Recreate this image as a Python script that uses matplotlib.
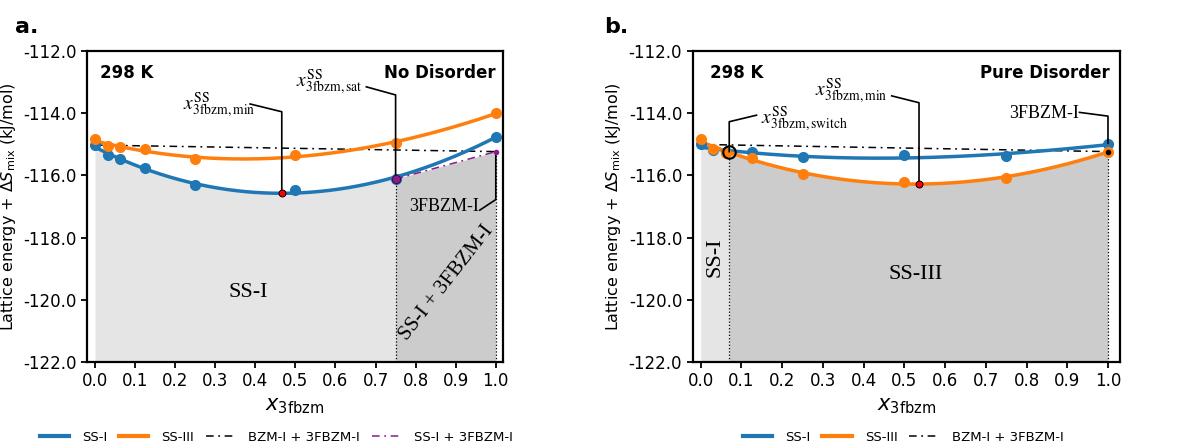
import numpy as np
import matplotlib
matplotlib.use("Agg")
import matplotlib.pyplot as plt
from matplotlib.lines import Line2D

plt.rcParams['font.family'] = ['DejaVu Sans']
plt.rcParams['mathtext.fontset'] = 'stix'

# ---------------- data ----------------
x_frac = [0.0, 0.03125, 0.0625, 0.125, 0.25, 0.5, 0.75, 1.0]

# panel a: No Disorder
a_ss1 = [-115.03, -115.35, -115.49, -115.78, -116.32, -116.48, -116.12, -114.76]
a_ss3 = [-114.84, -115.06, -115.10, -115.16, -115.48, -115.35, -114.96, -114.01]
a_bzm_line_x = [0.0, 1.0]
a_bzm_line_y = [-115.03, -115.24]
a_tangent_x = [0.75, 1.0]
a_tangent_y = [-116.12, -115.24]
a_min = (0.466, -116.58)
a_sat = (0.75, -116.12)

# panel b: Pure Disorder
b_ss1 = [-115.01, -115.20, -115.26, -115.26, -115.42, -115.36, -115.37, -115.00]
b_ss3 = [-114.83, -115.15, -115.28, -115.45, -115.95, -116.22, -116.09, -115.24]
b_bzm_line_x = [0.0, 1.0]
b_bzm_line_y = [-115.01, -115.24]
b_min = (0.536, -116.28)
b_switch = (0.07, -115.24)
b_3fbzm = (1.0, -115.24)

BLUE = '#1f77b4'
ORANGE = '#ff7f0e'
PURPLE = '#8b1a8b'
LIGHT = '#e5e5e5'
DARK = '#cccccc'
DASHDOT = (0, (5, 3, 1.2, 3))

fig = plt.figure(figsize=(11.9, 4.47), dpi=100)
axA = fig.add_axes([0.0731, 0.190, 0.3496, 0.6965])
axB = fig.add_axes([0.582, 0.190, 0.359, 0.6965])

def fit(xs, ys, deg=3):
    c = np.polyfit(xs, ys, deg)
    return np.poly1d(c)

def common(ax, xmax):
    ax.set_xlim(-0.02, xmax)
    ax.set_ylim(-122, -112)
    ax.set_xticks(np.arange(0, 1.01, 0.1))
    ax.set_xticklabels([f"{t:.1f}" for t in np.arange(0, 1.01, 0.1)])
    ax.set_yticks(np.arange(-122, -111.9, 2))
    ax.set_yticklabels([f"{t:.1f}" for t in np.arange(-122, -111.9, 2)])
    ax.tick_params(labelsize=12, width=1.3, length=4)
    for s in ax.spines.values():
        s.set_linewidth(1.6)
    ax.set_xlabel(r"$x_{\mathrm{3fbzm}}$", fontsize=15, math_fontfamily='dejavusans')
    ax.set_ylabel(r"Lattice energy + $\Delta S_{\mathrm{mix}}$ (kJ/mol)", fontsize=11.5,
                  math_fontfamily='dejavusans')

# ---------------- panel a ----------------
ax = axA
f1 = fit(x_frac, a_ss1)
f3 = fit(x_frac, a_ss3)
xx = np.linspace(0, 1, 300)
x_l = np.linspace(0, a_sat[0], 200)
ax.fill_between(x_l, f1(x_l), -122, color=LIGHT, lw=0, zorder=0)
ax.fill_between(a_tangent_x, a_tangent_y, -122, color=DARK, lw=0, zorder=0)
ax.plot(xx, f1(xx), color=BLUE, lw=2.5, zorder=3)
ax.plot(xx, f3(xx), color=ORANGE, lw=2.5, zorder=3)
ax.plot(x_frac, a_ss1, 'o', color=BLUE, ms=7, zorder=3)
ax.plot(x_frac, a_ss3, 'o', color=ORANGE, ms=7, zorder=3)
ax.plot(a_bzm_line_x, a_bzm_line_y, color='black', lw=1.1, ls=DASHDOT, zorder=2)
ax.plot(a_tangent_x, a_tangent_y, color=PURPLE, lw=1.1, ls=DASHDOT, zorder=4)
ax.plot([a_sat[0], a_sat[0]], [-122, a_sat[1]], color='black', lw=0.9, ls=':', zorder=2)
ax.plot([1.0, 1.0], [-122, a_tangent_y[1]], color='black', lw=0.9, ls=':', zorder=2)
# annotation leaders
ax.plot([0.387, a_min[0], a_min[0]], [-113.71, -113.96, a_min[1]], color='black', lw=1.2, zorder=4)
ax.plot([0.677, a_sat[0], a_sat[0]], [-113.16, -113.42, a_sat[1]], color='black', lw=1.2, zorder=4)
ax.plot([0.96, 1.0, 1.0], [-117.12, -116.78, a_tangent_y[1]], color='black', lw=1.2, zorder=4)
ax.plot(*a_min, 'o', color='red', mec='black', ms=5, mew=0.7, zorder=5)
ax.plot(*a_sat, 'o', color=PURPLE, mec='#3a0a3a', ms=6, mew=0.7, zorder=5)
ax.plot(a_tangent_x[1], a_tangent_y[1], 'o', color=PURPLE, ms=3, zorder=5)
ax.text(0.31, -113.75, r"$x_{\mathrm{3fbzm,min}}^{\mathrm{SS}}$", fontsize=14, ha='center', va='center')
ax.text(0.585, -113.0, r"$x_{\mathrm{3fbzm,sat}}^{\mathrm{SS}}$", fontsize=14, ha='center', va='center')
ax.text(0.87, -117.0, "3FBZM-I", fontsize=13, family='Liberation Serif', ha='center', va='center')
ax.text(0.382, -119.75, "SS-I", fontsize=16, family='Liberation Serif', ha='center', va='center')
ax.text(0.877, -119.47, "SS-I + 3FBZM-I", fontsize=15, family='Liberation Serif', ha='center', va='center', rotation=52)
ax.text(0.0125, -112.7, "298 K", fontsize=12, fontweight='bold', ha='left', va='center')
ax.text(1.0, -112.7, "No Disorder", fontsize=12, fontweight='bold', ha='right', va='center')
common(ax, 1.018)

# ---------------- panel b ----------------
ax = axB
g1 = fit(x_frac, b_ss1)
g3 = fit(x_frac, b_ss3)
x_l = np.linspace(0, b_switch[0], 50)
x_r = np.linspace(b_switch[0], 1.0, 250)
ax.fill_between(x_l, g1(x_l), -122, color=LIGHT, lw=0, zorder=0)
ax.fill_between(x_r, g3(x_r), -122, color=DARK, lw=0, zorder=0)
ax.plot(xx, g1(xx), color=BLUE, lw=2.5, zorder=3)
ax.plot(xx, g3(xx), color=ORANGE, lw=2.5, zorder=3)
ax.plot(x_frac, b_ss1, 'o', color=BLUE, ms=7, zorder=3)
ax.plot(x_frac, b_ss3, 'o', color=ORANGE, ms=7, zorder=3)
ax.plot(b_bzm_line_x, b_bzm_line_y, color='black', lw=1.1, ls=DASHDOT, zorder=2)
ax.plot([b_switch[0], b_switch[0]], [-122, b_switch[1]], color='black', lw=0.9, ls=':', zorder=2)
ax.plot([1.0, 1.0], [-122, b_3fbzm[1]], color='black', lw=0.9, ls=':', zorder=2)
ax.plot([0.137, b_switch[0], b_switch[0]], [-114.07, -114.28, b_switch[1]], color='black', lw=1.2, zorder=4)
ax.plot([0.469, b_min[0], b_min[0]], [-113.45, -113.67, b_min[1]], color='black', lw=1.2, zorder=4)
ax.plot([0.93, 1.0, 1.0], [-113.98, -114.1, -114.97], color='black', lw=1.2, zorder=4)
ax.plot(*b_min, 'o', color='red', mec='black', ms=5, mew=0.7, zorder=5)
ax.plot(*b_switch, 'o', mfc='none', mec='black', ms=9, mew=1.5, zorder=5)
ax.plot(*b_3fbzm, 'o', color='black', ms=3, zorder=5)
ax.text(0.255, -114.2, r"$x_{\mathrm{3fbzm,switch}}^{\mathrm{SS}}$", fontsize=14, ha='center', va='center')
ax.text(0.37, -113.3, r"$x_{\mathrm{3fbzm,min}}^{\mathrm{SS}}$", fontsize=14, ha='center', va='center')
ax.text(0.842, -114.0, "3FBZM-I", fontsize=13, family='Liberation Serif', ha='center', va='center')
ax.text(0.528, -119.2, "SS-III", fontsize=16, family='Liberation Serif', ha='center', va='center')
ax.text(0.035, -118.63, "SS-I", fontsize=16, family='Liberation Serif', ha='center', va='center', rotation=90)
ax.text(0.022, -112.7, "298 K", fontsize=12, fontweight='bold', ha='left', va='center')
ax.text(1.005, -112.7, "Pure Disorder", fontsize=12, fontweight='bold', ha='right', va='center')
common(ax, 1.029)

# panel letters
fig.text(0.013, 0.94, "a.", fontsize=16, fontweight='bold', va='center')
fig.text(0.508, 0.94, "b.", fontsize=16, fontweight='bold', va='center')

# legends
hA = [Line2D([], [], color=BLUE, lw=3),
      Line2D([], [], color=ORANGE, lw=3),
      Line2D([], [], color='black', lw=1.1, ls=DASHDOT),
      Line2D([], [], color=PURPLE, lw=1.1, ls=DASHDOT)]
lA = ["SS-I", "SS-III", "BZM-I + 3FBZM-I", "SS-I + 3FBZM-I"]
fig.legend(hA, lA, loc='center', bbox_to_anchor=(0.232, 0.022), ncol=4, frameon=False,
           fontsize=9.5, handlelength=2.2, columnspacing=0.9, handletextpad=1.0)
fig.legend(hA[:3], lA[:3], loc='center', bbox_to_anchor=(0.759, 0.022), ncol=3, frameon=False,
           fontsize=9.5, handlelength=2.2, columnspacing=0.9, handletextpad=1.0)

fig.savefig("out.png", dpi=100)
